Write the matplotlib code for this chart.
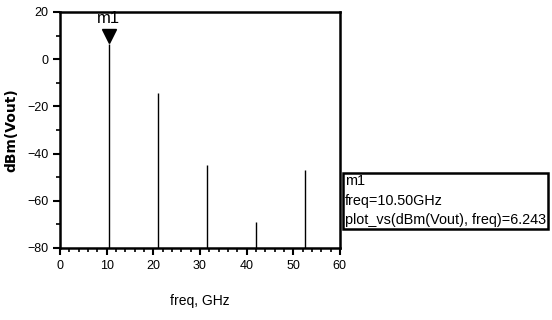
import matplotlib
matplotlib.use("Agg")
import matplotlib.pyplot as plt
from matplotlib.ticker import MultipleLocator

# harmonic spectrum
freq_ghz = [10.5, 21.0, 31.5, 42.0, 52.5]
dbm_vout = [6.243, -14.5, -45.0, -69.0, -47.0]
floor_dbm = -80

marker_name = "m1"
marker_lines = ["m1", "freq=10.50GHz", "plot_vs(dBm(Vout), freq)=6.243"]

plt.rcParams['font.family'] = ["Liberation Sans", "DejaVu Sans"]

fig = plt.figure(figsize=(5.52, 3.2), dpi=100)
ax = fig.add_axes([0.1087, 0.225, 0.507, 0.7375])

ax.vlines(freq_ghz, floor_dbm, dbm_vout, color='black', linewidth=1.0)

# marker on the fundamental
ax.plot([freq_ghz[0]], [dbm_vout[0] + 3.5], marker='v', markersize=10,
        color='black', linestyle='none')
ax.text(freq_ghz[0], dbm_vout[0] + 11, marker_name, ha='center', va='center',
        fontsize=12)

ax.set_xlim(0, 60)
ax.set_ylim(-80, 20)
ax.xaxis.set_major_locator(MultipleLocator(10))
ax.xaxis.set_minor_locator(MultipleLocator(2))
ax.yaxis.set_major_locator(MultipleLocator(20))
ax.yaxis.set_minor_locator(MultipleLocator(10))
ax.tick_params(which='major', direction='out', length=5, width=1.5, labelsize=9)
ax.tick_params(which='minor', direction='out', length=3, width=1.2)
for s in ax.spines.values():
    s.set_linewidth(1.8)

ax.set_xlabel("freq, GHz", fontsize=10, labelpad=16)
ax.set_ylabel("dBm(Vout)", fontsize=10, fontweight='bold', labelpad=6,
              family=["DejaVu Sans"])

fig.text(0.625, 0.455, "\n".join(marker_lines), ha='left', va='top',
         fontsize=10.4, linespacing=1.5,
         bbox=dict(boxstyle='square,pad=0.12', facecolor='white',
                   edgecolor='black', linewidth=1.8))

fig.savefig("out.png", dpi=100)
